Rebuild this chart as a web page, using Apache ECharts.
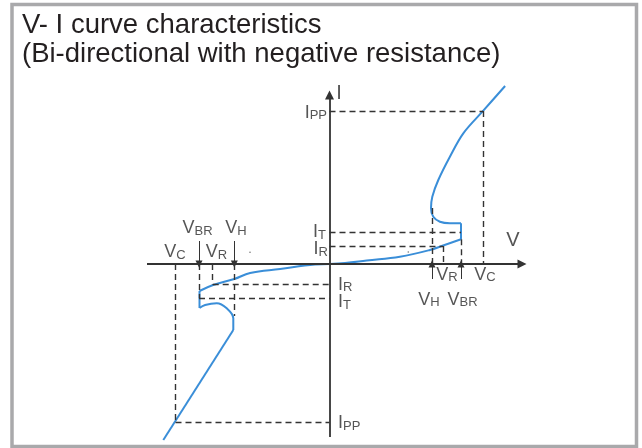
<!DOCTYPE html>
<html>
<head>
<meta charset="utf-8">
<title>V-I curve characteristics</title>
<script src="https://cdn.jsdelivr.net/npm/echarts@6/dist/echarts.min.js"></script>
<style>
  html, body { margin: 0; padding: 0; background: #fff; }
  #chart { width: 642px; height: 448px; }
</style>
</head>
<body>
<div id="chart"></div>
<script>
// V (x) and I (y) in arbitrary units
// positive branch: leakage rise, snap-back hook, clamp region
const posLow = [[0, 0], [0.78, 0.05], [1.86, 0.175], [3.52, 0.365], [5.02, 0.7], [5.68, 0.925], [6.575, 1.235]];
const posJump = [[6.575, 1.235], [6.575, 2.035]];
const posUpper = [[6.575, 2.035], [6.02, 2.035], [5.52, 2.11], [5.19, 2.36], [5.075, 2.785], [5.14, 3.365],
  [5.44, 4.2], [6.02, 5.365], [6.69, 6.535], [7.69, 7.665], [8.78, 8.9]];
// negative branch
const negLow = [[0, 0], [-0.72, -0.025], [-2.47, -0.25], [-3.97, -0.45], [-4.76, -0.75], [-5.82, -1.05], [-6.5, -1.35]];
const negJump = [[-6.5, -1.35], [-6.5, -2.2]];
const negHook = [[-6.5, -2.2], [-6.22, -2.05], [-5.64, -1.965], [-5.14, -2.215], [-4.81, -2.715], [-4.81, -3.3]];
const negTail = [[-4.81, -3.3], [-8.31, -8.8]];

// marked levels: [VH, VR, VBR, VC] and [IR, IT, IPP]
const posV = [5.125, 5.675, 6.575, 7.675];
const posI = [0.9, 1.6, 7.65];
const negV = [-4.76, -5.84, -6.525, -7.7];
const negI = [-1.015, -1.715, -7.9];
const hookTop = [2.8, -2.6]; // where the VH dashes end

// text labels: name, x, y, align
const labelNames = ['VH', 'VR', 'VBR', 'VC', 'IPP', 'IT', 'IR', 'VBR', 'VH', 'VC', 'VR', 'IR', 'IT', 'IPP'];
const labelX = [4.975, 5.875, 6.65, 7.775, -0.125, -0.175, -0.075, -6.6, -4.675, -7.725, -5.65, 0.425, 0.425, 0.425];
const labelY = [-1.8, -0.55, -1.8, -0.55, 7.55, 1.575, 0.725, 1.775, 1.775, 0.575, 0.575, -1.05, -1.925, -7.975];
const labelAlign = ['center', 'center', 'center', 'center', 'right', 'right', 'right',
  'center', 'center', 'center', 'center', 'left', 'left', 'left'];
const axisNames = ['V', 'I'];
const axisNameX = [9.175, 0.475];
const axisNameY = [1.2, 8.55];
const dots = [[-3.975, 0.585], [3.94, 0.6]];

const FONT = 'Liberation Sans, Arial, sans-serif';
const BLUE = '#3a8ed8';
const INK = '#2b2b2b';

const seg = (a, b) => [{ coord: a }, { coord: b }];

const dashed = [
  seg([0, posI[2]], [posV[3], posI[2]]), seg([posV[3], posI[2]], [posV[3], 0]),
  seg([0, posI[1]], [posV[2], posI[1]]), seg([0, posI[0]], [posV[1], posI[0]]),
  seg([posV[0], hookTop[0]], [posV[0], 0]), seg([posV[1], posI[0]], [posV[1], 0]),
  seg([posV[2], posLow[posLow.length - 1][1]], [posV[2], 0]),
  seg([negV[3], negI[2]], [0, negI[2]]), seg([negV[3], 0], [negV[3], negI[2]]),
  seg([negV[2], negI[1]], [0, negI[1]]), seg([negV[2], 0], [negV[2], negI[1]]),
  seg([negV[1], negI[0]], [0, negI[0]]), seg([negV[1], 0], [negV[1], negI[0]]),
  seg([negV[0], 0], [negV[0], hookTop[1]])
];

const pointers = [
  seg([posV[0], -0.75], [posV[0], 0]), seg([posV[2], -0.75], [posV[2], 0]),
  seg([negV[2], 1.15], [negV[2], 0]), seg([negV[0], 1.15], [negV[0], 0])
];

const curve = (data, smooth) => ({
  type: 'line', data, smooth, symbol: 'none', silent: true,
  lineStyle: { color: BLUE, width: 2 }
});

const labelData = labelNames.map((n, i) => ({
  value: [labelX[i], labelY[i]],
  label: { formatter: '{m|' + n[0] + '}{s|' + n.slice(1) + '}', align: labelAlign[i] }
})).concat(axisNames.map((n, i) => ({
  value: [axisNameX[i], axisNameY[i]],
  label: { formatter: '{a|' + n + '}', align: 'center' }
})));

const chart = echarts.init(document.getElementById('chart'));
chart.setOption({
  animation: false,
  backgroundColor: '#fff',
  title: {
    text: 'V- I curve characteristics\n(Bi-directional with negative resistance)',
    left: 22, top: 11, padding: 0,
    textStyle: { fontFamily: FONT, fontSize: 27.5, lineHeight: 29, fontWeight: 'normal', color: '#231f20' }
  },
  graphic: [{
    type: 'rect', silent: true,
    shape: { x: 12, y: 4.5, width: 624.5, height: 442 },
    style: { fill: 'none', stroke: '#a9a9ab', lineWidth: 3.5 }
  }],
  grid: { left: 0, right: 0, top: 0, bottom: 0 },
  xAxis: { type: 'value', min: -16.475, max: 15.625, show: false },
  yAxis: { type: 'value', min: -9.2, max: 13.2, show: false },
  series: [
    {
      type: 'line', data: [], silent: true,
      markLine: {
        silent: true, symbol: ['none', 'triangle'], symbolSize: 9, label: { show: false },
        lineStyle: { color: '#333', width: 1.8, type: 'solid' },
        data: [seg([-9.125, 0], [9.625, 0]), seg([0, -8.65], [0, 8.45])]
      }
    },
    {
      type: 'line', data: [], silent: true,
      markLine: {
        silent: true, symbol: 'none', label: { show: false },
        lineStyle: { color: '#333', width: 1.4, type: [6, 4] },
        data: dashed
      }
    },
    {
      type: 'line', data: [], silent: true,
      markLine: {
        silent: true, symbol: ['none', 'triangle'], symbolSize: 7, label: { show: false },
        lineStyle: { color: '#333', width: 1, type: 'solid' },
        data: pointers
      }
    },
    curve(posLow, 0.4), curve(posJump, false), curve(posUpper, 0.35),
    curve(negLow, 0.4), curve(negJump, false), curve(negHook, 0.4), curve(negTail, false),
    {
      type: 'scatter', data: dots, symbolSize: 1.6, silent: true,
      itemStyle: { color: '#555' }
    },
    {
      type: 'scatter', data: labelData, symbolSize: 0, silent: true,
      label: {
        show: true, position: [0, 0], verticalAlign: 'middle', color: INK,
        rich: {
          m: { fontFamily: FONT, fontSize: 18, lineHeight: 18, verticalAlign: 'bottom', color: INK },
          s: { fontFamily: FONT, fontSize: 13, lineHeight: 13, verticalAlign: 'bottom', color: INK },
          a: { fontFamily: FONT, fontSize: 20, lineHeight: 20, color: INK }
        }
      }
    }
  ]
});
</script>
</body>
</html>
